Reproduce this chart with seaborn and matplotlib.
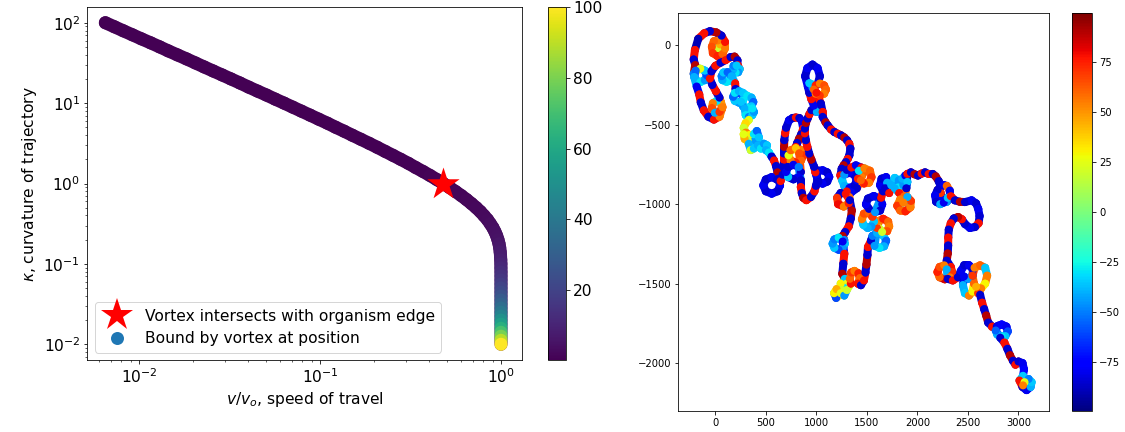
import numpy as np
import matplotlib
matplotlib.use("Agg")
import matplotlib.pyplot as plt
from matplotlib.colors import Normalize
from matplotlib.cm import ScalarMappable
from matplotlib.collections import LineCollection
from matplotlib.lines import Line2D
import seaborn as sns

# ---------------- left panel: curvature vs. speed ----------------
# binding position (radius from the vortex core)
position = [0.01, 0.0112, 0.0126, 0.0141, 0.0158, 0.0178, 0.02, 0.0224, 0.0251, 0.0282,
            0.0316, 0.0355, 0.0398, 0.0447, 0.0501, 0.0562, 0.0631, 0.0708, 0.0794, 0.0891,
            0.1, 0.112, 0.126, 0.141, 0.158, 0.178, 0.2, 0.224, 0.251, 0.282,
            0.316, 0.355, 0.398, 0.447, 0.501, 0.562, 0.631, 0.708, 0.794, 0.891,
            1.0, 1.12, 1.26, 1.41, 1.58, 1.78, 2.0, 2.24, 2.51, 2.82,
            3.16, 3.55, 3.98, 4.47, 5.01, 5.62, 6.31, 7.08, 7.94, 8.91,
            10.0, 11.2, 12.6, 14.1, 15.8, 17.8, 20.0, 22.4, 25.1, 28.2,
            31.6, 35.5, 39.8, 44.7, 50.1, 56.2, 63.1, 70.8, 79.4, 89.1,
            100.0]
curvature = [100.0, 89.1, 79.4, 70.8, 63.1, 56.2, 50.1, 44.7, 39.8, 35.5,
             31.6, 28.2, 25.1, 22.4, 20.0, 17.8, 15.8, 14.1, 12.6, 11.2,
             10.0, 8.91, 7.94, 7.08, 6.31, 5.62, 5.01, 4.47, 3.98, 3.55,
             3.16, 2.82, 2.51, 2.24, 2.0, 1.78, 1.58, 1.41, 1.26, 1.12,
             1.0, 0.891, 0.794, 0.708, 0.631, 0.562, 0.501, 0.447, 0.398, 0.355,
             0.316, 0.282, 0.251, 0.224, 0.2, 0.178, 0.158, 0.141, 0.126, 0.112,
             0.1, 0.0891, 0.0794, 0.0708, 0.0631, 0.0562, 0.0501, 0.0447, 0.0398, 0.0355,
             0.0316, 0.0282, 0.0251, 0.0224, 0.02, 0.0178, 0.0158, 0.0141, 0.0126, 0.0112,
             0.01]
speed = [0.00652, 0.00731, 0.00819, 0.00919, 0.0103, 0.0116, 0.0130, 0.0145, 0.0163, 0.0183,
         0.0205, 0.0229, 0.0257, 0.0288, 0.0322, 0.0361, 0.0404, 0.0452, 0.0506, 0.0566,
         0.0633, 0.0707, 0.0790, 0.0882, 0.0984, 0.110, 0.122, 0.136, 0.151, 0.168,
         0.187, 0.207, 0.229, 0.253, 0.279, 0.308, 0.338, 0.371, 0.405, 0.442,
         0.480, 0.520, 0.561, 0.603, 0.645, 0.687, 0.729, 0.769, 0.806, 0.842,
         0.873, 0.902, 0.926, 0.946, 0.962, 0.975, 0.984, 0.990, 0.994, 0.997,
         0.999, 0.999, 1.0, 1.0, 1.0, 1.0, 1.0, 1.0, 1.0, 1.0,
         1.0, 1.0, 1.0, 1.0, 1.0, 1.0, 1.0, 1.0, 1.0, 1.0,
         1.0]
star_speed = 0.48
star_curvature = 1.0
legend_labels = ["Vortex intersects with organism edge", "Bound by vortex at position"]

# ---------------- right panel: organism trajectory ----------------
traj_x = [
    0, 30, 45, 25, -15, -35, -25, 20, 70, 95, 95, 60, 10, -54, -110, -170, -203,
    -215, -200, -215, -195, -150, -105, -85, -105, -150, -195, -210, -185, -160, -145, -115, -70, -15, 40,
    65, 55, 15, -25, -35, -5, 40, 70, 40, 5, -30, -55, -40, 0, 50, 100, 150, 190, 218, 220,
    240, 225, 200, 175, 180, 210, 160, 150, 110, 70, 62, 80, 120, 160, 195, 200, 235,
    288, 272, 232, 192, 176, 192, 232, 272, 315, 357, 375, 357, 315, 273, 255, 290, 300, 331, 365, 381, 365,
    330, 300, 280, 300, 335, 320, 290, 280, 330, 350, 380, 400, 380, 410, 430, 420, 450, 480, 510, 500, 530,
    555, 580, 600, 615, 625, 640, 615, 557, 499, 474, 499, 557, 610, 645, 665,
    673, 680, 680, 680, 682, 690, 700, 729, 765, 796, 830, 855, 869, 850, 829, 810, 796,
    845, 869, 848, 796, 744, 723, 744, 796, 830,
    845, 824, 772, 720, 699, 720, 772, 824, 845, 845, 855, 870, 900, 945, 980, 995,
    1010, 1000, 1020, 1061, 1107, 1127, 1107, 1061, 1020,
    990, 978, 950, 928, 910, 895, 885, 885, 895, 912, 930, 951, 1004, 975, 950, 930, 915,
    888, 910, 961, 1012, 1034, 1012, 961, 930, 992, 1034, 1076, 1094, 1076, 1034, 992, 974, 1000,
    1044, 1061, 1061, 1090, 1111, 1145, 1177, 1210, 1243, 1275, 1303, 1325, 1336, 1326, 1310, 1293, 1270, 1250, 1237,
    1255, 1275, 1326, 1377, 1398, 1377, 1326, 1275, 1300, 1345, 1390, 1445, 1470, 1445, 1410, 1420, 1475,
    1530, 1545, 1520, 1470, 1440, 1400, 1345, 1300, 1240, 1205, 1215, 1270, 1320, 1325, 1290, 1330, 1350,
    1340, 1320, 1285, 1260, 1275, 1280, 1262, 1220, 1178, 1160, 1178, 1220, 1260, 1276, 1266, 1256,
    1280, 1300, 1270, 1240, 1250, 1230, 1195, 1175, 1200, 1240, 1275, 1300,
    1340, 1330, 1345, 1376, 1415, 1430, 1410, 1440, 1470, 1485, 1495, 1505, 1510,
    1540, 1555, 1600, 1660, 1690, 1670, 1624, 1575, 1600, 1620, 1660, 1710, 1720, 1700, 1650,
    1570, 1545, 1508, 1465, 1450, 1470, 1520, 1555, 1520, 1490, 1510, 1568, 1630, 1651, 1630, 1580,
    1640, 1660, 1630, 1645, 1690, 1700, 1680, 1720, 1740, 1775, 1815, 1810, 1775, 1820,
    1860, 1850, 1880, 1900, 1870, 1830, 1800, 1830, 1880, 1930, 1935, 1900, 1860, 1890,
    1900, 1935, 1970, 2005, 2040, 2075, 2110, 2150, 2180, 2210,
    2230, 2260, 2290, 2320, 2325, 2290, 2250, 2230, 2200, 2175, 2185, 2225, 2260, 2300,
    2330, 2370, 2420, 2470, 2536, 2580, 2602, 2615, 2605, 2569, 2520, 2470, 2440, 2403, 2360, 2330,
    2310, 2305, 2304, 2300, 2290,
    2330, 2344, 2320, 2271, 2220, 2198, 2220, 2265, 2290,
    2300, 2350, 2400, 2430, 2465, 2510, 2550, 2545, 2500, 2460, 2450, 2470, 2510, 2545,
    2560, 2545, 2565, 2620, 2670, 2690, 2670, 2630, 2600, 2580,
    2620, 2640, 2660, 2680, 2700, 2740, 2785, 2800, 2834, 2880, 2894, 2870, 2834, 2790, 2775,
    2820, 2860, 2890, 2915, 2945, 2970, 3000, 3040, 3055, 3045, 3010, 3040, 3080, 3120, 3130, 3100, 3060, 3045,
]
traj_y = [
    -10, -20, 5, 30, 25, -10, -50, -68, -55, -20, 20, 60, 80, 88, 75, 40, -30,
    -90, -125, -180, -220, -232, -220, -190, -160, -148, -160, -200, -260, -310, -360, -410, -450, -468, -450,
    -400, -360, -350, -365, -395, -425, -420, -390, -330, -290, -250, -210, -165, -130, -110, -94, -75, -72, -95, -125,
    -150, -170, -172, -155, -130, -128, -190, -222, -230, -220, -195, -172, -170, -195, -240, -275, -300,
    -325, -350, -361, -350, -325, -300, -289, -300, -319, -330, -357, -384, -395, -384, -357, -400, -440, -451, -440, -420, -398,
    -470, -490, -520, -550, -565, -600, -590, -560, -620, -660, -650, -600, -560, -540, -580, -630, -650, -620, -630, -660, -675,
    -700, -725, -760, -800, -840, -882, -919, -934, -919, -882, -845, -830, -845, -855, -815,
    -766, -720, -682, -640, -598, -555, -520, -472, -458, -455, -458, -475, -525, -560, -588, -615, -640,
    -660, -693, -725, -739, -725, -693, -661, -647, -680,
    -798, -830, -844, -830, -798, -766, -752, -766, -850, -892, -930, -960, -975, -955, -920, -885,
    -850, -815, -790, -787, -800, -829, -858, -871, -860,
    -800, -766, -720, -682, -640, -598, -555, -525, -490, -462, -435, -409, -420, -380, -340, -300, -260,
    -195, -145, -122, -145, -195, -245, -268, -240, -253, -241, -253, -279, -305, -317, -305, -279, -300,
    -367, -420, -451, -485, -504, -530, -546, -557, -567, -580, -598, -620, -650, -693, -715, -735, -755, -777, -819,
    -850, -885, -898, -885, -850, -815, -802, -815, -785, -770, -756, -770, -798, -830, -840, -790, -775,
    -790, -830, -865, -870, -850, -900, -925, -920, -930, -960, -1000, -1015, -995, -955, -935, -975, -1040,
    -1090, -1140, -1175, -1200, -1225, -1249, -1275, -1287, -1275, -1249, -1222, -1211, -1235, -1312, -1375, -1438,
    -1470, -1500, -1525, -1500, -1540, -1570, -1590, -1560, -1535, -1560, -1575, -1540,
    -1500, -1470, -1430, -1420, -1435, -1465, -1500, -1510, -1480, -1430, -1380, -1320, -1270,
    -1230, -1200, -1182, -1195, -1230, -1265, -1275, -1262, -1150, -1105, -1092, -1110, -1140, -1170, -1175,
    -1110, -1140, -1150, -1130, -1095, -1060, -1055, -1080, -1030, -1001, -965, -949, -965, -1001, -1040, -1050,
    -960, -920, -880, -840, -830, -865, -900, -930, -880, -835, -850, -895, -900, -930,
    -880, -840, -820, -860, -950, -970, -1010, -1040, -1045, -1020, -980, -955, -990, -900,
    -810, -800, -812, -820, -808, -800, -810, -810, -825, -855,
    -890, -880, -885, -915, -960, -985, -970, -930, -910, -945, -985, -1000, -990, -960,
    -950, -976, -985, -987, -976, -995, -1030, -1075, -1120, -1144, -1150, -1125, -1095, -1081, -1090, -1120,
    -1160, -1210, -1260, -1310, -1355,
    -1395, -1427, -1460, -1473, -1460, -1427, -1395, -1385, -1410,
    -1470, -1480, -1460, -1420, -1385, -1385, -1410, -1450, -1470, -1455, -1510, -1560, -1575, -1550,
    -1500, -1450, -1400, -1385, -1400, -1450, -1500, -1530, -1560, -1520,
    -1570, -1620, -1660, -1700, -1745, -1770, -1770, -1765, -1757, -1770, -1800, -1830, -1833, -1820, -1795,
    -1840, -1870, -1910, -1950, -1985, -2010, -1990, -2000, -2040, -2080, -2110, -2150, -2170, -2150, -2120, -2100, -2120, -2140,
]
traj_c = [
    -30, 20, 45, 55, 60, 65, 70, 75, 60, 55, 78, -85, 90, -85, 78, -90, 78,
    -85, 90, -50, -40, -30, -45, -60, -35, 25, -55, -40, -80, 78, -85, 78, -85, 78, 55,
    60, 50, -30, 55, 65, -40, 70, 55, -85, 78, -85, 78, -85, 78, -85, 78, -85, 90, -85, 78,
    -35, -45, -30, -40, -50, -35, -45, -35, -30, -40, -50, -35, -55, -40, 78, -85, -60,
    -40, -30, -45, -35, -55, -30, -40, -35, -30, -40, -55, -35, -30, -45, -35, -40, -30, -50, -35, -45, -30,
    25, 35, 20, 55, 30, 15, 45, 25, -40, 20, -35, -45, -30, -55, -35, -40, -30, -45, -35, -40, -30,
    -85, 78, -85, 90, -85, -80, -85, -80, -85, -80, -85, -80, -85, 78, -85,
    -85, 78, -85, 90, -85, 78, -85, -80, -85, 78, -85, -80, 78, -85, 90, -85, 78,
    55, 70, 60, 75, 55, 25, 60, 40, 65,
    -85, -80, -85, -35, -80, -85, -80, -50, -85, 78, -85, 90, 78, -85, 78, -85,
    -85, -80, -85, -80, -85, -80, -85, -80, -85,
    78, -85, 90, -85, 78, -85, 78, -85, 90, -85, 78, -85, -40, -80, 78, -85, -80,
    -85, -80, -85, -80, -85, -80, -45, -35, 75, 55, 65, 60, 55, 70, 55, 60, 78,
    -85, 78, -85, 90, -85, 78, -85, 78, -85, 90, -85, 78, -85, -85, 78, -85, 90, -85, 78,
    -35, -40, -80, -85, -80, -85, -80, -45, -85, 78, -80, 78, 60, 55, 75, -30, 55,
    60, 70, 55, 75, 60, -85, -80, 78, -85, 70, 80, 55, 75, 60, 78, -85, 90,
    -85, 78, -85, 90, -50, -35, -45, -60, -35, -45, -50, -30, -80, 78, -85, 90,
    -35, 25, -30, 30, 20, 35, -60, 30, 45, 25, -45, 20,
    78, 60, 70, 55, 75, 60, 78, -85, 78, -85, 90, -85, 78,
    -85, -50, -40, -35, -55, -40, -30, -45, 70, 55, 75, 60, 55, 65, 20,
    -35, -45, -40, -35, 55, 65, 60, 70, -85, -80, -85, -80, -85, -80, -85, -45,
    78, -85, -80, -85, -80, -40, -85, 78, -40, -35, -45, -30, -40, 78,
    -45, -40, -80, -35, 60, 55, 70, 60, 75, 55, 70, -40, 55, -85,
    78, -85, 90, -85, 78, -85, 78, -85, 90, -85,
    -85, -80, 60, -80, -85, -45, -80, 70, -85, -80, -85, -40, -80, -35,
    78, -85, 90, -85, -80, -85, -80, -85, 78, -85, -80, -85, 78, 90, -85, 78,
    -85, 78, -85, 90, -85,
    78, 70, 55, 85, 60, 75, 65, 55, -40,
    -85, 78, -85, -80, -85, -80, -85, -60, -45, -80, -40, -35, 55, 30,
    60, 70, 55, 60, -35, 55, 30, 55, 70, 45,
    -85, 78, -85, 90, -85, 78, -85, -80, -75, -80, -60, -35, -30, -40, -55,
    -85, 78, -85, 90, -85, 78, -85, -80, -75, -35, 78, -85, -80, -40, -35, -50, 25, 55,
]

# ---------------- figure layout ----------------
fig = plt.figure(figsize=(15.625, 6), dpi=72)
ax1 = fig.add_axes([0.0776, 0.166, 0.3867, 0.8171])
cax1 = fig.add_axes([0.4874, 0.166, 0.0157, 0.8171])
ax2 = fig.add_axes([0.6027, 0.0491, 0.3300, 0.9199])
cax2 = fig.add_axes([0.9529, 0.0491, 0.0178, 0.9199])

viridis = plt.get_cmap("viridis")
jet = plt.get_cmap("jet")
big = 15.5

# ---- left: curvature of trajectory against speed of travel ----
ax1.set_xscale("log")
ax1.set_yscale("log")
pos_norm = Normalize(vmin=min(position), vmax=max(position))
sns.lineplot(x=speed, y=curvature, sort=False, estimator=None, color=viridis(0.0),
             linewidth=13, solid_capstyle="round", ax=ax1)
sns.scatterplot(x=speed, y=curvature, hue=position, palette=viridis, hue_norm=pos_norm,
                s=170, linewidth=0, legend=False, ax=ax1, zorder=3)
ax1.scatter([star_speed], [star_curvature], marker="*", s=1150, color="red",
            linewidths=0, zorder=5)
ax1.set_xlim(0.00518, 1.312)
ax1.set_ylim(0.00632, 155.6)
ax1.set_xlabel(r"$v/v_o$, speed of travel", fontsize=big)
ax1.set_ylabel(r"$\kappa$, curvature of trajectory", fontsize=big)
ax1.tick_params(labelsize=big)

handles = [
    Line2D([], [], marker="*", color="red", markersize=34, linestyle="none", markeredgewidth=0),
    Line2D([], [], marker="o", color="#1f77b4", markersize=13, linestyle="none", markeredgewidth=0),
]
ax1.legend(handles, legend_labels, loc="lower left", fontsize=big)

cb1 = fig.colorbar(ScalarMappable(norm=pos_norm, cmap=viridis), cax=cax1,
                   ticks=[20, 40, 60, 80, 100])
cb1.ax.tick_params(labelsize=big)

# ---- right: trajectory coloured by heading ----
traj_norm = Normalize(vmin=-99.5, vmax=99.5)
pts = np.column_stack([traj_x, traj_y]).astype(float)
segs = np.stack([pts[:-1], pts[1:]], axis=1)
lc = LineCollection(segs, cmap=jet, norm=traj_norm, linewidths=8,
                    capstyle="round", joinstyle="round")
lc.set_array(np.asarray(traj_c[:-1], dtype=float))
ax2.add_collection(lc)
sns.scatterplot(x=traj_x, y=traj_y, hue=traj_c, palette=jet, hue_norm=traj_norm,
                s=64, linewidth=0, legend=False, ax=ax2, zorder=3)
ax2.set_xlim(-370, 3305)
ax2.set_ylim(-2300, 200)
ax2.set_xticks([0, 500, 1000, 1500, 2000, 2500, 3000])
ax2.set_yticks([-2000, -1500, -1000, -500, 0])

cb2 = fig.colorbar(ScalarMappable(norm=traj_norm, cmap=jet), cax=cax2,
                   ticks=[-75, -50, -25, 0, 25, 50, 75])

fig.savefig("out.png", dpi=72)
